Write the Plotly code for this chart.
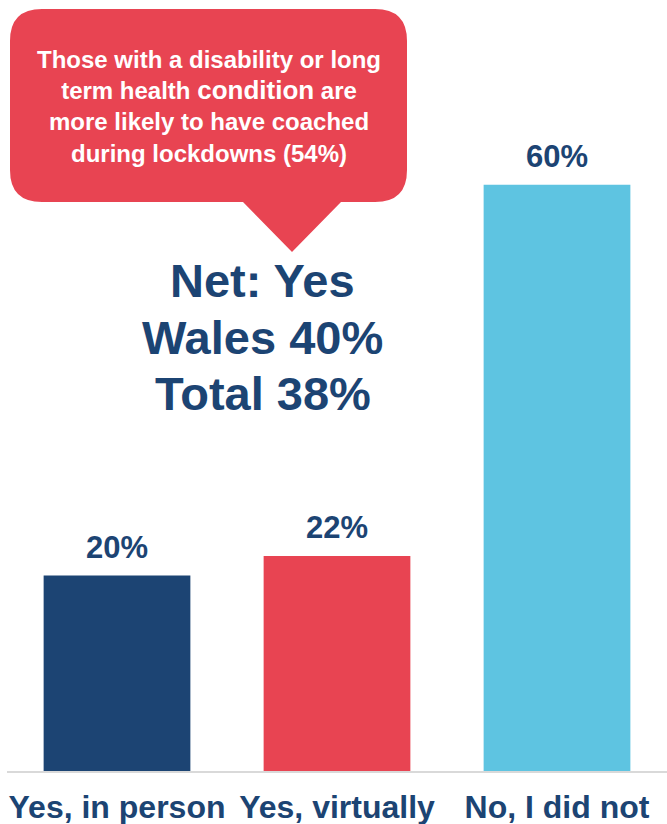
import plotly.graph_objects as go

# Survey answers and shares (%)
categories = ["Yes, in person", "Yes, virtually", "No, I did not"]
shares = [20, 22, 60]
bar_colors = ["#1C4473", "#E84452", "#5EC4E1"]

net_lines = ["Net: Yes", "Wales 40%", "Total 38%"]
callout_lines = [
    "Those with a disability or long",
    "term health <span style=\"font-size:26px\">condition</span> are",
    "more likely to have coached",
    "during lockdowns (54%)",
]

W, H = 667, 824
M_L, M_R, M_T, M_B = 7, 0, 0, 53
PLOT_W = W - M_L - M_R
PLOT_H = H - M_T - M_B

NAVY = "#1C4473"
FONT = "Liberation Sans, Arial, sans-serif"


def px_x(px):
    return (px - M_L) / PLOT_W


def px_y(py):
    return (M_T + PLOT_H - py) / PLOT_H


def speech_bubble(left, top, right, bottom, r, base_l, base_r, tip_x, tip_y):
    pts = [
        ("M", [(left + r, top)]),
        ("L", [(right - r, top)]),
        ("Q", [(right, top), (right, top + r)]),
        ("L", [(right, bottom - r)]),
        ("Q", [(right, bottom), (right - r, bottom)]),
        ("L", [(base_r, bottom)]),
        ("L", [(tip_x, tip_y)]),
        ("L", [(base_l, bottom)]),
        ("L", [(left + r, bottom)]),
        ("Q", [(left, bottom), (left, bottom - r)]),
        ("L", [(left, top + r)]),
        ("Q", [(left, top), (left + r, top)]),
    ]
    parts = []
    for cmd, coords in pts:
        parts.append(cmd + " " + " ".join(f"{px_x(x):.5f},{px_y(y):.5f}" for x, y in coords))
    return " ".join(parts) + " Z"


fig = go.Figure(
    go.Bar(
        x=categories,
        y=shares,
        marker=dict(color=bar_colors, line=dict(width=0)),
        width=0.667,
        hoverinfo="skip",
    )
)

annotations = []
# value labels above each bar
for cat, v in zip(categories, shares):
    annotations.append(
        dict(
            x=cat, y=v, xref="x", yref="y",
            text=f"{v}%", showarrow=False,
            yanchor="bottom", yshift=9,
            font=dict(family=FONT, size=31, color=NAVY, weight="bold"),
        )
    )

# net summary block
for line, cy in zip(net_lines, [280, 337, 393]):
    annotations.append(
        dict(
            x=px_x(262.5), y=px_y(cy), xref="paper", yref="paper",
            text=line, showarrow=False, xanchor="center", yanchor="middle",
            font=dict(family=FONT, size=47, color=NAVY, weight="bold"),
        )
    )

# callout text
annotations.append(
    dict(
        x=px_x(209), y=px_y(107), xref="paper", yref="paper",
        text="<br>".join(callout_lines), showarrow=False,
        xanchor="center", yanchor="middle", align="center",
        font=dict(family=FONT, size=24, color="white", weight="bold"),
    )
)

fig.add_shape(
    type="path",
    xref="paper", yref="paper",
    path=speech_bubble(10, 9, 407, 202, 32, 243, 341, 292, 252),
    fillcolor="#E84452",
    line=dict(width=0),
    layer="above",
)

fig.update_layout(
    width=W, height=H,
    margin=dict(l=M_L, r=M_R, t=M_T, b=M_B, pad=0),
    paper_bgcolor="white", plot_bgcolor="white",
    showlegend=False,
    annotations=annotations,
    xaxis=dict(
        type="category", range=[-0.5, 2.5],
        showline=True, linecolor="#D9D9D9", linewidth=2,
        showgrid=False, zeroline=False, ticks="",
        ticklabelstandoff=7,
        tickfont=dict(family=FONT, size=32, color=NAVY, weight="bold"),
        automargin=False,
    ),
    yaxis=dict(visible=False, range=[0, 78.9], fixedrange=True),
)

fig.write_html("out.html")
